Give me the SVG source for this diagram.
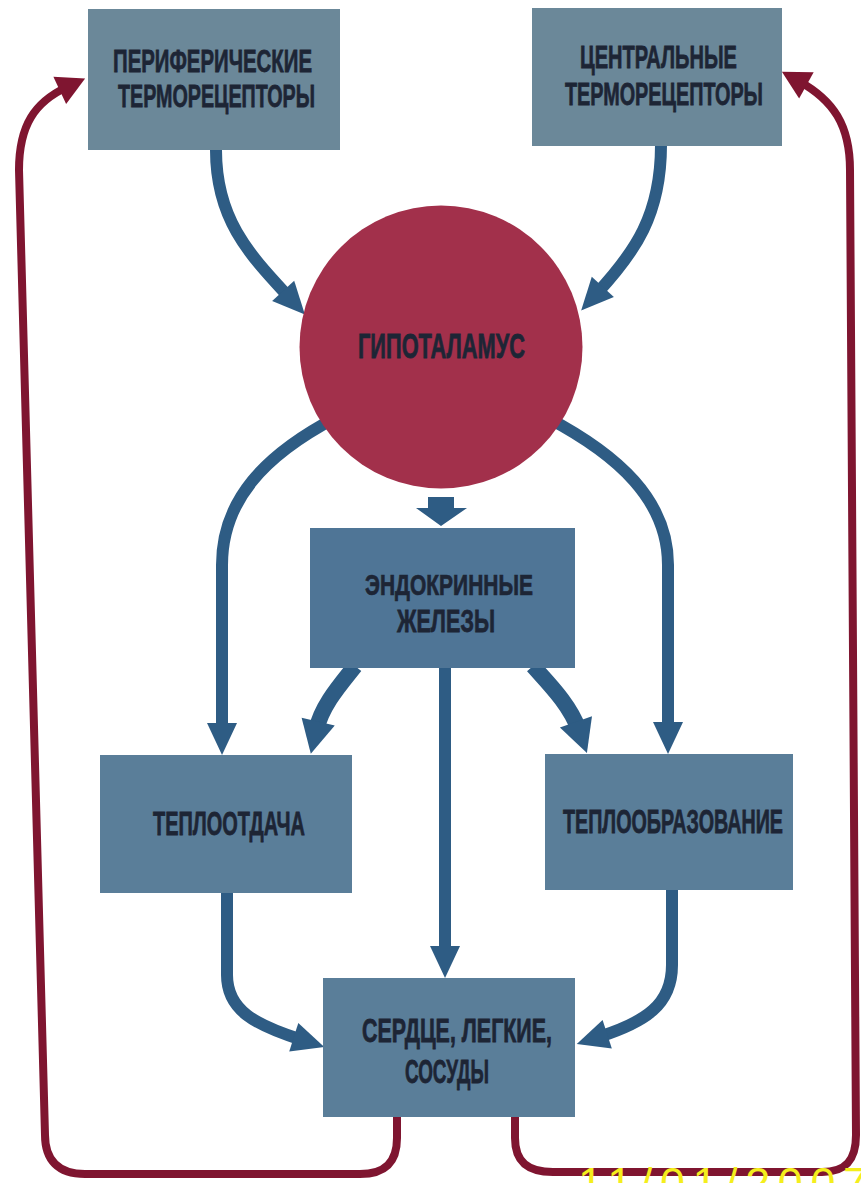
<svg xmlns="http://www.w3.org/2000/svg" width="861" height="1183" viewBox="0 0 861 1183">
<defs>
<style>
.box{fill:#5a7e99}
.boxT{fill:#6b8899}
.boxE{fill:#4f7596}
.lbl{font-family:"Liberation Sans",Arial,sans-serif;font-weight:bold;font-size:21px;fill:#1d2535;stroke:#1d2535;stroke-width:0.5}
.blue{fill:none;stroke:#2e5c84;stroke-width:12}
.blueT{fill:none;stroke:#2e5c84;stroke-width:16}
.red{fill:none;stroke:#7f1530;stroke-width:8}
</style>
<marker id="ab" markerUnits="userSpaceOnUse" viewBox="-1 -17 36 34" markerWidth="36" markerHeight="34" refX="8" refY="0" orient="auto">
<path d="M0,-15 L32,0 L0,15 Z" fill="#2e5c84"/>
</marker>
<marker id="abBig" markerUnits="userSpaceOnUse" viewBox="-1 -19 38 38" markerWidth="38" markerHeight="38" refX="8" refY="0" orient="auto">
<path d="M0,-17 L33,0 L0,17 Z" fill="#2e5c84"/>
</marker>
<marker id="ar" markerUnits="userSpaceOnUse" viewBox="-1 -17 32 34" markerWidth="32" markerHeight="34" refX="8" refY="0" orient="auto">
<path d="M0,-15 L28,0 L0,15 Z" fill="#7f1530"/>
</marker>
</defs>
<rect width="861" height="1183" fill="#ffffff"/>

<g id="connectors">
<path class="blue" d="M216,150 C216,220 250,255 288.6,296.8" marker-end="url(#ab)"/>
<path class="blue" d="M661,145 C661,215 635,252 597.4,292.8" marker-end="url(#ab)"/>
<path class="blue" d="M335,418 C265,455 222,500 222,565 L222,731" marker-end="url(#ab)"/>
<path class="blue" d="M548,418 C618,455 668,500 668,565 L668,730" marker-end="url(#ab)"/>
<path class="blueT" d="M355,666 C340,685 322,705 316.4,729.4" marker-end="url(#abBig)"/>
<path class="blueT" d="M533,666 C550,685 570,705 578.6,729.4" marker-end="url(#abBig)"/>
<path class="blue" d="M445,666 L445,954" marker-end="url(#ab)"/>
<path class="blue" d="M227,891 L227,975 C227,1010 255,1025 301.4,1039.7" marker-end="url(#ab)"/>
<path class="blue" d="M672,888 L672,965 C672,1005 645,1022 599.6,1036.7" marker-end="url(#ab)"/>
<path d="M428,497 L454,497 L454,508 L467,508 L441,526 L416,508 L428,508 Z" fill="#2e5c84"/>
<path class="red" d="M397,1115 L397,1138 C397,1162 385,1174 360,1174 L85,1174 C58,1174 45,1160 45,1135 L19,170 C19,125 35,102 67,87" marker-end="url(#ar)"/>
<path class="red" d="M515,1115 L515,1138 C515,1162 528,1172 553,1172 L822,1172 C846,1172 856,1160 856,1135 L850,170 C850,125 833,100 799.4,81.4" marker-end="url(#ar)"/>
</g>

<g id="node-periph">
<rect class="boxT" x="88" y="9" width="252" height="141"/>
<text class="lbl" transform="translate(113,72) scale(1,1.5)" textLength="199" lengthAdjust="spacingAndGlyphs">ПЕРИФЕРИЧЕСКИЕ</text>
<text class="lbl" transform="translate(118,107) scale(1,1.5)" textLength="197" lengthAdjust="spacingAndGlyphs">ТЕРМОРЕЦЕПТОРЫ</text>
</g>

<g id="node-central">
<rect class="boxT" x="532" y="8" width="250" height="138"/>
<text class="lbl" transform="translate(580,68) scale(1,1.5)" textLength="157" lengthAdjust="spacingAndGlyphs">ЦЕНТРАЛЬНЫЕ</text>
<text class="lbl" transform="translate(565,105) scale(1,1.5)" textLength="198" lengthAdjust="spacingAndGlyphs">ТЕРМОРЕЦЕПТОРЫ</text>
</g>

<g id="node-hypothalamus">
<circle cx="441" cy="347" r="141.5" fill="#a2304b"/>
<text class="lbl" transform="translate(358,358) scale(1,1.65)" textLength="167" lengthAdjust="spacingAndGlyphs">ГИПОТАЛАМУС</text>
</g>

<g id="node-endocrine">
<rect class="boxE" x="310" y="528" width="265" height="140"/>
<text class="lbl" transform="translate(365,595) scale(1,1.4)" textLength="168" lengthAdjust="spacingAndGlyphs">ЭНДОКРИННЫЕ</text>
<text class="lbl" transform="translate(397,632) scale(1,1.5)" textLength="98" lengthAdjust="spacingAndGlyphs">ЖЕЛЕЗЫ</text>
</g>

<g id="node-heatloss">
<rect class="box" x="100" y="755" width="252" height="138"/>
<text class="lbl" transform="translate(153,835) scale(1,1.55)" textLength="152" lengthAdjust="spacingAndGlyphs">ТЕПЛООТДАЧА</text>
</g>

<g id="node-heatprod">
<rect class="box" x="545" y="754" width="248" height="136"/>
<text class="lbl" transform="translate(563,833) scale(1,1.55)" textLength="220" lengthAdjust="spacingAndGlyphs">ТЕПЛООБРАЗОВАНИЕ</text>
</g>

<g id="node-heart">
<rect class="box" x="323" y="978" width="252" height="139"/>
<text class="lbl" transform="translate(362,1042) scale(1,1.55)" textLength="190" lengthAdjust="spacingAndGlyphs">СЕРДЦЕ, ЛЕГКИЕ,</text>
<text class="lbl" transform="translate(405,1083) scale(1,1.55)" textLength="84" lengthAdjust="spacingAndGlyphs">СОСУДЫ</text>
</g>

<text x="578" y="1199" font-family="Liberation Sans, Arial, sans-serif" font-size="45" fill="#f4ee1c" textLength="290" lengthAdjust="spacing">11/01/2007</text>
</svg>
